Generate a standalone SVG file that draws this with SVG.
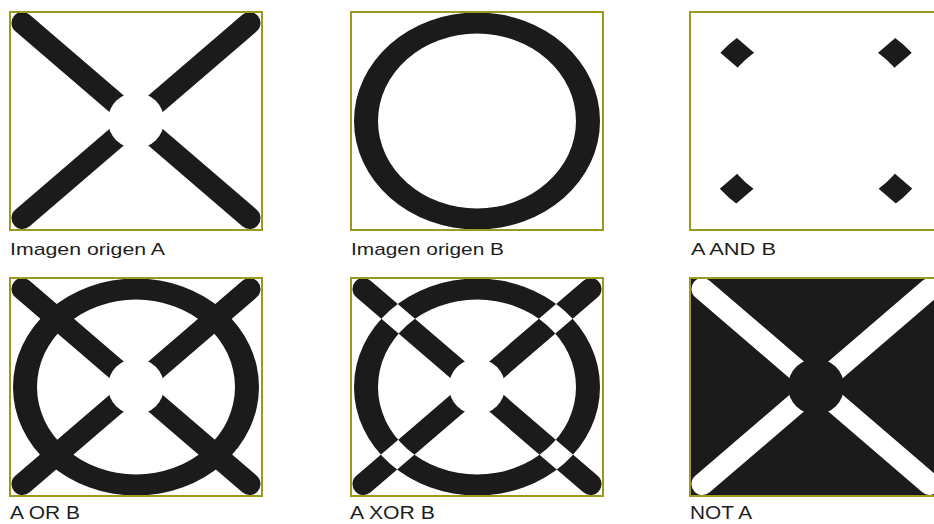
<svg xmlns="http://www.w3.org/2000/svg" xmlns:xlink="http://www.w3.org/1999/xlink" width="934" height="524" viewBox="0 0 934 524">
<style>
.frame{fill:none;stroke:#9a9a1e;stroke-width:2}
.bar{stroke-width:22;stroke-linecap:round;fill:none}
.ink{fill:#1b1b1b}
.lbl{font-family:"Liberation Sans",Arial,sans-serif;fill:#1e1e1e}
.top{font-size:17px}
.bot{font-size:18px}
</style>
<defs>
<path id="ringPath" fill-rule="evenodd" d="M3,109 a123,108.5 0 1,0 246,0 a123,108.5 0 1,0 -246,0 Z M27,109 a99,87.5 0 1,0 198,0 a99,87.5 0 1,0 -198,0 Z"/>
<clipPath id="ringClip"><path clip-rule="evenodd" d="M3,109 a123,108.5 0 1,0 246,0 a123,108.5 0 1,0 -246,0 Z M27,109 a99,87.5 0 1,0 198,0 a99,87.5 0 1,0 -198,0 Z"/></clipPath>
<g id="xlines">
<line x1="12.5" y1="11" x2="239.5" y2="206"/>
<line x1="239.5" y1="11" x2="12.5" y2="206"/>
</g>
</defs>
<rect width="934" height="524" fill="#ffffff"/>

<g id="panelA" transform="translate(10,12)">
<rect width="252" height="218" fill="#ffffff"/>
<use xlink:href="#xlines" class="bar" stroke="#1b1b1b"/>
<circle cx="126" cy="108.5" r="28" fill="#ffffff"/>
<rect class="frame" width="252" height="218"/>
<text class="lbl top" x="0" y="243" textLength="155" lengthAdjust="spacingAndGlyphs">Imagen origen A</text>
</g>

<g id="panelB" transform="translate(351,12)">
<rect width="252" height="218" fill="#ffffff"/>
<use xlink:href="#ringPath" class="ink"/>
<rect class="frame" width="252" height="218"/>
<text class="lbl top" x="0" y="243" textLength="153" lengthAdjust="spacingAndGlyphs">Imagen origen B</text>
</g>

<g id="panelAND" transform="translate(690,12)">
<rect width="252" height="218" fill="#ffffff"/>
<g clip-path="url(#ringClip)"><use xlink:href="#xlines" class="bar" stroke="#1b1b1b"/></g>
<rect class="frame" width="252" height="218"/>
<text class="lbl top" x="1" y="243" textLength="85" lengthAdjust="spacingAndGlyphs">A AND B</text>
</g>

<g id="panelOR" transform="translate(10,278)">
<rect width="252" height="218" fill="#ffffff"/>
<use xlink:href="#ringPath" class="ink"/>
<use xlink:href="#xlines" class="bar" stroke="#1b1b1b"/>
<circle cx="126" cy="108.5" r="28" fill="#ffffff"/>
<rect class="frame" width="252" height="218"/>
<text class="lbl bot" x="0" y="241" textLength="70" lengthAdjust="spacingAndGlyphs">A OR B</text>
</g>

<g id="panelXOR" transform="translate(351,278)">
<rect width="252" height="218" fill="#ffffff"/>
<use xlink:href="#ringPath" class="ink"/>
<use xlink:href="#xlines" class="bar" stroke="#1b1b1b"/>
<circle cx="126" cy="108.5" r="28" fill="#ffffff"/>
<g clip-path="url(#ringClip)"><use xlink:href="#xlines" class="bar" stroke="#ffffff"/></g>
<rect class="frame" width="252" height="218"/>
<text class="lbl bot" x="-1" y="241" textLength="85" lengthAdjust="spacingAndGlyphs">A XOR B</text>
</g>

<g id="panelNOT" transform="translate(690,278)">
<rect width="252" height="218" fill="#1b1b1b"/>
<use xlink:href="#xlines" class="bar" stroke="#ffffff"/>
<circle cx="126" cy="108.5" r="28" fill="#1b1b1b"/>
<rect class="frame" width="252" height="218"/>
<text class="lbl bot" x="0" y="241" textLength="62" lengthAdjust="spacingAndGlyphs">NOT A</text>
</g>
</svg>
